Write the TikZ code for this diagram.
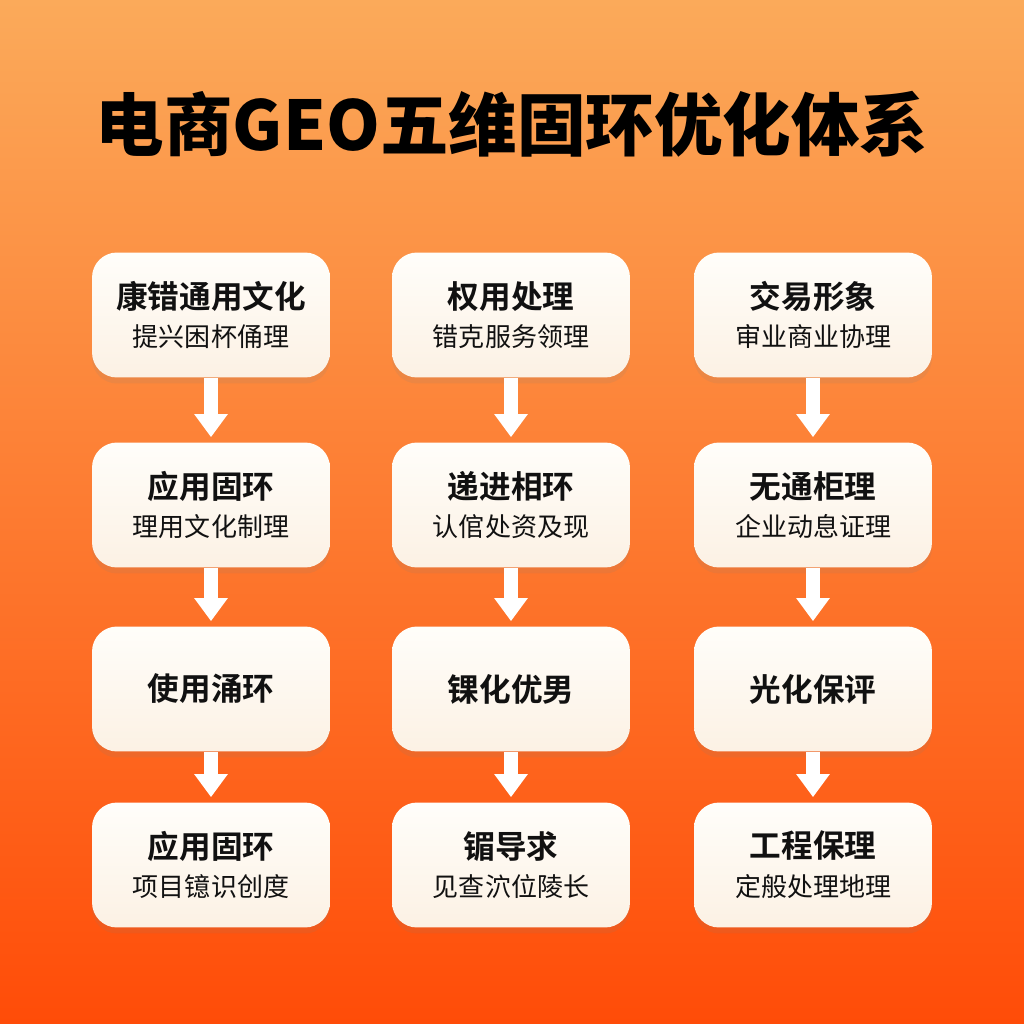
\documentclass[tikz,border=0pt]{standalone}
\usepackage{fontspec}
\setmainfont{Noto Sans CJK SC}
\newfontfamily\titlefont{Noto Sans CJK SC Black}
\newfontfamily\headfont{Noto Sans CJK SC Bold}
\usetikzlibrary{arrows.meta,shadows}
\definecolor{bgtop}{HTML}{FBAA5A}
\definecolor{bgmid}{HTML}{F8873A}
\definecolor{bgbot}{HTML}{FF4C08}
\definecolor{cardtop}{HTML}{FFFEFA}
\definecolor{cardbot}{HTML}{FCF1E4}
\definecolor{ink}{HTML}{111111}
\tikzset{
  card/.style={rounded corners=0.5cm, minimum width=4.76cm, minimum height=2.5cm,
    top color=cardtop, bottom color=cardbot, align=center, inner sep=0pt, text=ink,
    font=\fontsize{14.8}{22}\selectfont,
    drop shadow={opacity=0.12, shadow xshift=0pt, shadow yshift=-0.12cm}},
  flow/.style={draw=white, line width=0.28cm, -{Triangle[width=0.64cm,length=0.46cm]},
    shorten >=0.1cm},
}
\newcommand{\headline}[1]{{\headfont\fontsize{18}{22}\selectfont #1}}

\begin{document}
\begin{tikzpicture}[x=0.02cm, y=-0.02cm]
  % background
  \shade[top color=bgtop, middle color=bgmid, bottom color=bgbot] (0,0) rectangle (1024,1024);
  \node (title) at (512,124) {\titlefont\fontsize{39}{46}\selectfont 电商GEO五维固环优化体系};

  % column 1
  \node[card] (n11) at (211,315) {\headline{康错通用文化}\\提兴困杯俑理};
  \node[card] (n21) at (211,505) {\headline{应用固环}\\理用文化制理};
  \node[card] (n31) at (211,689) {\headline{使用涌环}};
  \node[card] (n41) at (211,865) {\headline{应用固环}\\项目镱识创度};

  % column 2
  \node[card] (n12) at (511,315) {\headline{权用处理}\\错克服务领理};
  \node[card] (n22) at (511,505) {\headline{递进相环}\\认倌处资及现};
  \node[card] (n32) at (511,689) {\headline{锞化优男}};
  \node[card] (n42) at (511,865) {\headline{镅导求}\\见查泬位陵长};

  % column 3
  \node[card] (n13) at (813,315) {\headline{交易形象}\\审业商业协理};
  \node[card] (n23) at (813,505) {\headline{无通柜理}\\企业动息证理};
  \node[card] (n33) at (813,689) {\headline{光化保评}};
  \node[card] (n43) at (813,865) {\headline{工程保理}\\定般处理地理};

  \foreach \c in {1,2,3}
    \foreach \r/\s in {1/2,2/3,3/4}
      \draw[flow] (n\r\c.south) -- (n\s\c.north);
\end{tikzpicture}
\end{document}
